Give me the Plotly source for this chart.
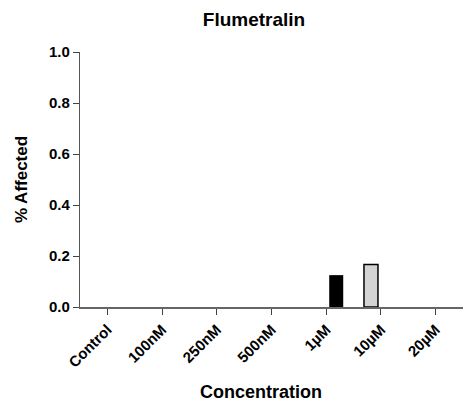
import plotly.graph_objects as go

categories = ["Control", "100nM", "250nM", "500nM", "1\u00b5M", "10\u00b5M", "20\u00b5M"]
black_series = [0, 0, 0, 0, 0.125, None, 0]
grey_series = [None, None, None, None, None, 0.167, None]
y_ticks = [0.0, 0.2, 0.4, 0.6, 0.8, 1.0]
y_tick_labels = ["0.0", "0.2", "0.4", "0.6", "0.8", "1.0"]
x_title = "Concentration"
y_title = "% Affected"
chart_title = "Flumetralin"

FONT = "Liberation Sans, Arial, sans-serif"

fig = go.Figure()
fig.add_trace(go.Bar(
    x=categories, y=black_series, width=0.256, offset=0.055,
    marker=dict(color="black", line=dict(color="black", width=0)),
    showlegend=False,
))
fig.add_trace(go.Bar(
    x=categories, y=grey_series, width=0.256, offset=-0.31,
    marker=dict(color="#d3d3d3", line=dict(color="black", width=1.5)),
    showlegend=False,
))

fig.update_layout(
    width=469, height=407,
    margin=dict(l=80, r=6, t=52, b=100, autoexpand=False),
    plot_bgcolor="white", paper_bgcolor="white",
    barmode="overlay",
    font=dict(family=FONT, color="black"),
    title=dict(text="<b>%s</b>" % chart_title, x=254/469, xanchor="center",
               y=1 - 19/407, yanchor="middle", font=dict(size=19, family=FONT)),
    xaxis=dict(
        type="category", range=[-0.5, 6.5], automargin=False,
        showline=True, linecolor="#666666", linewidth=2,
        ticks="outside", ticklen=6, tickcolor="#444444", tickwidth=1.2,
        tickangle=-45, tickfont=dict(size=15, family=FONT),
        tickprefix="<b>", ticksuffix="</b>",
        showgrid=False, zeroline=False,
    ),
    yaxis=dict(
        range=[0, 1.0], automargin=False,
        tickvals=y_ticks, ticktext=["<b>%s</b>" % t for t in y_tick_labels],
        showline=True, linecolor="#555555", linewidth=1.2,
        ticks="outside", ticklen=6, tickcolor="#444444", tickwidth=1.2,
        tickfont=dict(size=15, family=FONT),
        title=dict(text="<b>%s</b>" % y_title, font=dict(size=17, family=FONT), standoff=17),
        showgrid=False, zeroline=False,
    ),
    annotations=[dict(
        text="<b>%s</b>" % x_title, xref="paper", yref="paper",
        x=(261 - 80) / 383, y=-85 / 255, xanchor="center", yanchor="middle",
        showarrow=False, font=dict(size=18, family=FONT),
    )],
)

fig.write_html("out.html", config={"displayModeBar": False},
               post_script="document.body.style.margin='0';")
